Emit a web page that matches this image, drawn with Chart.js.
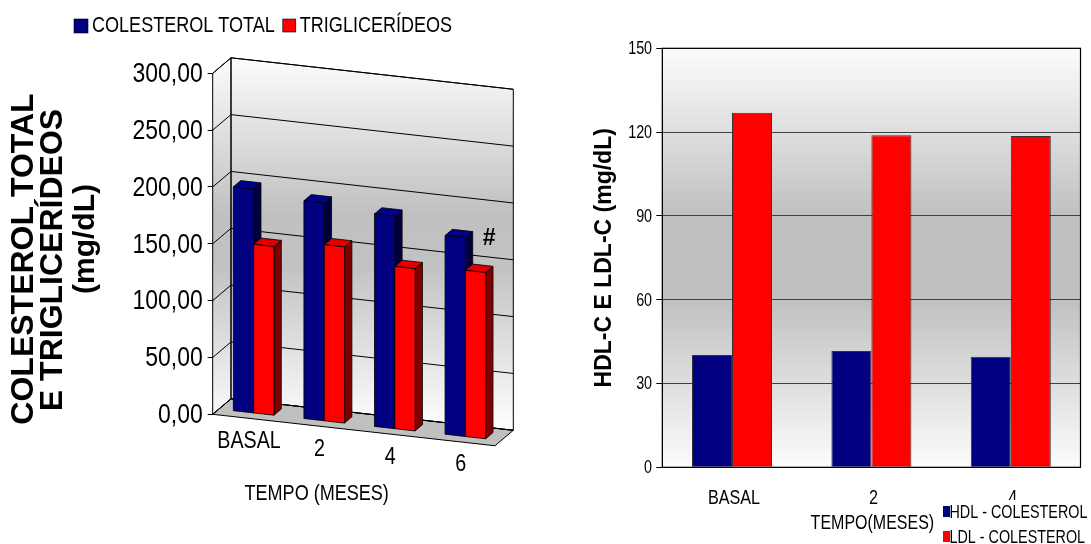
<!DOCTYPE html>
<html><head><meta charset="utf-8">
<script src="https://cdn.jsdelivr.net/npm/chart.js@4.4.1/dist/chart.umd.min.js"></script>
<style>
html,body{margin:0;padding:0;background:#fff;overflow:hidden;}
#wrap{position:relative;width:1091px;height:544px;background:#fff;}
#c1{position:absolute;left:0;top:0;}
#c2{position:absolute;left:545px;top:0;}
</style></head><body>
<div id="wrap"><canvas id="c1" width="545" height="544"></canvas><canvas id="c2" width="546" height="544"></canvas></div>
<script>
// ---------- data ----------
const categoriesLeft = ['BASAL', '2', '4', '6'];
const colesterolTotal = [197.4, 192.0, 187.4, 175.3];
const triglicerideos = [148.8, 155.4, 143.2, 146.7];
const leftTicks = [0, 50, 100, 150, 200, 250, 300];
const leftTickLabels = ['0,00', '50,00', '100,00', '150,00', '200,00', '250,00', '300,00'];

const categoriesRight = ['BASAL', '2', '4'];
const hdlColesterol = [40.2, 41.6, 39.6];
const ldlColesterol = [126.9, 118.9, 118.6];
const rightTicks = [0, 30, 60, 90, 120, 150];
const rightTickLabels = ['0', '30', '60', '90', '120', '150'];

// ---------- text helpers ----------
const BF = "'Liberation Sans', Arial, sans-serif";
// condensed text: regular face compressed horizontally
function nText(ctx, text, x, y, size, align, sx, baseline, bold) {
  ctx.save();
  ctx.font = (bold ? 'bold ' : '') + size + 'px ' + BF;
  ctx.textAlign = align || 'left';
  ctx.textBaseline = baseline || 'alphabetic';
  ctx.fillStyle = '#000';
  ctx.translate(x, y);
  ctx.scale(sx || 0.82, 1);
  ctx.fillText(text, 0, 0);
  ctx.restore();
}
function nWidth(ctx, text, size, sx) {
  ctx.save(); ctx.font = size + 'px ' + BF; const w = ctx.measureText(text).width * (sx || 0.82); ctx.restore(); return w;
}

// ---------- left chart (pseudo 3D) ----------
const K = 0.1115, DX = 18.3, DY = -15.5, F0 = 0.31, FB = 0.71;
const faceColors = [
  { front: '#000080', top: '#00008a', side: '#00003c' },
  { front: '#ff0000', top: '#e00000', side: '#800000' }
];
function proj(a, xf, yp, t) { return [xf + t * DX, yp + K * (xf - a.left) + t * DY]; }
function poly(ctx, pts, fill, stroke, lw) {
  ctx.beginPath();
  pts.forEach((p, i) => i ? ctx.lineTo(p[0], p[1]) : ctx.moveTo(p[0], p[1]));
  ctx.closePath();
  if (fill) { ctx.fillStyle = fill; ctx.fill(); }
  if (stroke) { ctx.strokeStyle = stroke; ctx.lineWidth = lw || 1; ctx.stroke(); }
}
function line(ctx, p, q, color, lw) {
  ctx.beginPath(); ctx.moveTo(p[0], p[1]); ctx.lineTo(q[0], q[1]);
  ctx.strokeStyle = color; ctx.lineWidth = lw || 1; ctx.stroke();
}
function wallGradient(ctx, y0, y1) {
  const g = ctx.createLinearGradient(0, y0, 0, y1);
  g.addColorStop(0, '#fcfcfc');
  g.addColorStop(0.42, '#c0c0c0');
  g.addColorStop(0.56, '#c2c2c2');
  g.addColorStop(1, '#ffffff');
  return g;
}

const threeD = {
  id: 'threeD',
  beforeDraw(chart) {
    const { ctx, chartArea: a, scales: { y } } = chart;
    const L = a.left, R = a.right;
    const yT = y.getPixelForValue(y.max), yB = y.getPixelForValue(0);
    ctx.save();
    const g = wallGradient(ctx, proj(a, L, yT, 1)[1], proj(a, R, yB, 1)[1]);
    const lw = [proj(a, L, yB, 0), proj(a, L, yB, 1), proj(a, L, yT, 1), proj(a, L, yT, 0)];
    const bw = [proj(a, L, yT, 1), proj(a, R, yT, 1), proj(a, R, yB, 1), proj(a, L, yB, 1)];
    const fl = [proj(a, L, yB, 0), proj(a, R, yB, 0), proj(a, R, yB, 1), proj(a, L, yB, 1)];
    poly(ctx, lw, g);
    poly(ctx, bw, g);
    poly(ctx, fl, '#c0c0c0');
    leftTicks.forEach(v => {
      const yp = y.getPixelForValue(v);
      line(ctx, proj(a, L, yp, 0), proj(a, L, yp, 1), '#000', 1);
      line(ctx, proj(a, L, yp, 1), proj(a, R, yp, 1), '#000', 1);
    });
    poly(ctx, lw, null, '#000', 1);
    poly(ctx, bw, null, '#000', 1);
    poly(ctx, fl, null, '#000', 1);
    ctx.restore();
  },
  beforeDatasetsDraw(chart) {
    const { ctx, chartArea: a } = chart;
    const metas = chart.data.datasets.map((d, i) => chart.getDatasetMeta(i));
    ctx.save();
    for (let i = 0; i < chart.data.labels.length; i++) {
      metas.forEach((m, d) => {
        const el = m.data[i];
        const xl = el.x - el.width / 2, xr = el.x + el.width / 2, top = el.y, base = el.base;
        const c = faceColors[d];
        poly(ctx, [proj(a, xr, top, F0), proj(a, xr, base, F0), proj(a, xr, base, FB), proj(a, xr, top, FB)], c.side, '#000', 0.8);
        poly(ctx, [proj(a, xl, top, F0), proj(a, xr, top, F0), proj(a, xr, top, FB), proj(a, xl, top, FB)], c.top, '#000', 0.8);
        poly(ctx, [proj(a, xl, top, F0), proj(a, xr, top, F0), proj(a, xr, base, F0), proj(a, xl, base, F0)], c.front, '#000', 0.8);
      });
    }
    ctx.restore();
    return false;
  },
  afterDraw(chart) {
    const { ctx, chartArea: a, scales: { x, y } } = chart;
    const yB = y.getPixelForValue(0);
    // y tick labels
    leftTicks.forEach((v, i) => nText(ctx, leftTickLabels[i], a.left - 10, y.getPixelForValue(v) + 1, 28, 'right', 0.82, 'middle'));
    // category labels along the sloped floor
    chart.data.labels.forEach((lab, i) => {
      const xf = x.getPixelForValue(i);
      const p = proj(a, xf, yB, 0);
      nText(ctx, lab, xf + 1, p[1] + 23, 24, 'center', 0.82, 'middle');
    });
    // x title
    nText(ctx, 'TEMPO (MESES)', a.left + 104, 494, 22, 'center', 0.82, 'middle');
    // significance mark
    const el = chart.getDatasetMeta(0).data[3];
    const pt = proj(a, el.x - el.width / 2, el.y, F0);
    ctx.save();
    ctx.fillStyle = '#000';
    ctx.font = 'bold 23px ' + BF;
    ctx.textAlign = 'center'; ctx.textBaseline = 'middle';
    ctx.fillText('#', pt[0] + 44, pt[1] + 3);
    // y title
    ctx.textBaseline = 'alphabetic';
    const tl = [['COLESTEROL TOTAL', 33.3, 259, 32], ['E TRIGLICERÍDEOS', 61.7, 260, 32], ['(mg/dL)', 94, 239, 30]];
    tl.forEach(([t, bx, cy, fs]) => {
      ctx.save(); ctx.font = 'bold ' + fs + 'px ' + BF;
      ctx.translate(bx, cy); ctx.rotate(-Math.PI / 2); ctx.fillText(t, 0, 0); ctx.restore();
    });
    // legend (top)
    let lx = 74;
    chart.data.datasets.forEach((ds, d) => {
      const bs = d === 0 ? 14 : 13;
      ctx.fillStyle = ds.backgroundColor;
      ctx.fillRect(lx, 19, bs, bs);
      ctx.strokeStyle = '#000'; ctx.lineWidth = 0.6; ctx.strokeRect(lx, 19, bs, bs);
      nText(ctx, ds.label, lx + bs + 4, 32, 22, 'left', 0.82);
      lx += bs + 4 + nWidth(ctx, ds.label, 22, 0.82) + 8;
    });
    ctx.restore();
  }
};

new Chart(document.getElementById('c1'), {
  type: 'bar',
  data: {
    labels: categoriesLeft,
    datasets: [
      { label: 'COLESTEROL TOTAL', data: colesterolTotal, backgroundColor: '#000080' },
      { label: 'TRIGLICERÍDEOS', data: triglicerideos, backgroundColor: '#ff0000' }
    ]
  },
  options: {
    responsive: false, animation: false, events: [],
    layout: { padding: { left: 0, top: 73.3, right: 50, bottom: 129.7 } },
    plugins: { legend: { display: false }, tooltip: { enabled: false } },
    datasets: { bar: { categoryPercentage: 0.576, barPercentage: 1 } },
    scales: {
      x: { display: false, offset: true },
      y: {
        min: 0, max: 300,
        afterFit(s) { s.width = 212.7; },
        afterBuildTicks(s) { s.ticks = leftTicks.map(v => ({ value: v })); },
        ticks: { display: false },
        grid: { drawOnChartArea: false, drawTicks: true, tickLength: 5, color: '#000' },
        border: { display: false }
      }
    }
  },
  plugins: [threeD]
});

// ---------- right chart ----------
const rightDeco = {
  id: 'rightDeco',
  beforeDraw(chart) {
    const { ctx, chartArea: a } = chart;
    const g = ctx.createLinearGradient(0, a.top, 0, a.bottom);
    g.addColorStop(0, '#fcfcfc');
    g.addColorStop(0.4, '#c0c0c0');
    g.addColorStop(0.6, '#c0c0c0');
    g.addColorStop(1, '#fcfcfc');
    ctx.save(); ctx.fillStyle = g; ctx.fillRect(a.left, a.top, a.right - a.left, a.bottom - a.top); ctx.restore();
  },
  afterDraw(chart) {
    const { ctx, chartArea: a, scales: { x, y } } = chart;
    ctx.save();
    ctx.strokeStyle = '#000'; ctx.lineWidth = 1.2;
    ctx.strokeRect(a.left, a.top, a.right - a.left, a.bottom - a.top);
    // y tick labels
    rightTicks.forEach((v, i) => nText(ctx, rightTickLabels[i], a.left - 10.2, y.getPixelForValue(v) + 1, 17.5, 'right', 0.82, 'middle'));
    // x category labels
    chart.data.labels.forEach((lab, i) => nText(ctx, lab, x.getPixelForValue(i) + 2, a.bottom + 31, 21, 'center', 0.77, 'middle'));
    // x title
    nText(ctx, 'TEMPO(MESES)', (a.left + a.right) / 2 + 1, a.bottom + 56.5, 20, 'center', 0.8, 'middle');
    // legend at bottom right
    ctx.fillStyle = '#fff';
    ctx.fillRect(393, 500, 153, 44);
    chart.data.datasets.forEach((ds, d) => {
      const by = 506 + d * 25;
      ctx.fillStyle = ds.backgroundColor;
      ctx.fillRect(398, by, 7, 11);
      nText(ctx, ds.label, 404.5, by + 11.5, 17.5, 'left', 0.82);
    });
    ctx.restore();
  }
};

new Chart(document.getElementById('c2'), {
  type: 'bar',
  data: {
    labels: categoriesRight,
    datasets: [
      { label: 'HDL - COLESTEROL', data: hdlColesterol, backgroundColor: '#000080', borderColor: '#333333', borderWidth: 1 },
      { label: 'LDL - COLESTEROL', data: ldlColesterol, backgroundColor: '#ff0000', borderColor: '#333333', borderWidth: 1 }
    ]
  },
  options: {
    responsive: false, animation: false, events: [],
    layout: { padding: { left: 0, top: 48.3, right: 10.5, bottom: 0 } },
    plugins: { legend: { display: false }, tooltip: { enabled: false } },
    datasets: { bar: { categoryPercentage: 0.574, barPercentage: 1 } },
    scales: {
      x: {
        afterFit(s) { s.height = 76.7; },
        grid: { display: false, drawTicks: false },
        border: { display: true, color: '#000', width: 1 },
        ticks: { display: false }
      },
      y: {
        min: 0, max: 150,
        afterFit(s) { s.width = 117.3; },
        afterBuildTicks(s) { s.ticks = rightTicks.map(v => ({ value: v })); },
        ticks: { display: false },
        grid: { color: '#404040', tickColor: '#000', tickLength: 6, drawTicks: true },
        border: { display: true, color: '#000', width: 1 },
        title: { display: true, text: 'HDL-C E LDL-C (mg/dL)', color: '#000', font: { family: BF, weight: 'bold', size: 23 }, padding: { top: 46.2, bottom: 0 } }
      }
    }
  },
  plugins: [rightDeco]
});
</script>
</body></html>
